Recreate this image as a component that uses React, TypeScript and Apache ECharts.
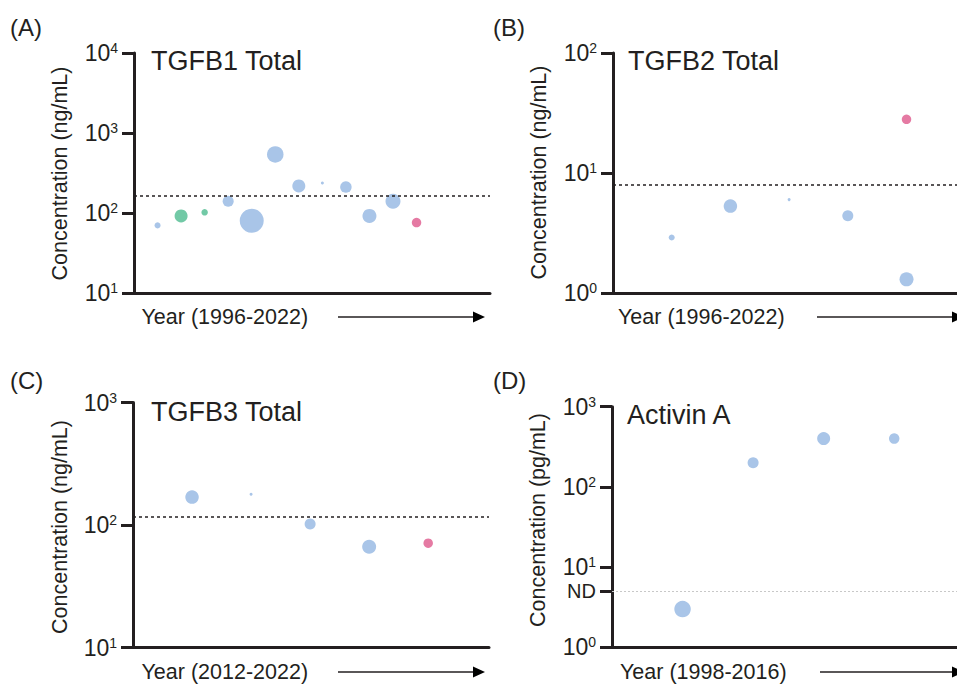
import React, { useEffect, useRef } from "react";
import * as echarts from "echarts";

// ---------- data ----------
// Panel A: TGFB1 Total (ng/mL), studies 1996-2022
const aStudy = [1, 2, 3, 4, 5, 6, 7, 8, 9, 10, 11, 12];
const aValues = [70, 92, 102, 140, 80, 540, 218, 237, 211, 92, 140, 76];
const aWeights = [6, 13, 6.5, 11, 24, 16.5, 13, 3, 11.5, 14, 15, 9.5];
const aGroups = ["blue", "green", "green", "blue", "blue", "blue", "blue", "blue", "blue", "blue", "blue", "pink"];
const aReference = 165;

// Panel B: TGFB2 Total (ng/mL), studies 1996-2022
const bStudy = [1, 2, 3, 4, 5, 5];
const bValues = [2.9, 5.3, 6.0, 4.4, 1.3, 28];
const bWeights = [6, 13.5, 3, 11, 14, 9.5];
const bGroups = ["blue", "blue", "blue", "blue", "blue", "pink"];
const bReference = 8.0;

// Panel C: TGFB3 Total (ng/mL), studies 2012-2022
const cStudy = [1, 2, 3, 4, 5];
const cValues = [169, 178, 102, 66.5, 71];
const cWeights = [13.5, 3, 11, 14, 9.5];
const cGroups = ["blue", "blue", "blue", "blue", "pink"];
const cReference = 117;

// Panel D: Activin A (pg/mL), studies 1998-2016
const dStudy = [1, 2, 3, 4];
const dValues = [3.0, 200, 400, 400];
const dWeights = [16.5, 11, 13, 10.5];
const dGroups = ["blue", "blue", "blue", "blue"];
const dNotDetected = 5;
const dTicks = [1, 5, 10, 100, 1000];

const panelLetters = ["(A)", "(B)", "(C)", "(D)"];
const panelTitles = ["TGFB1 Total", "TGFB2 Total", "TGFB3 Total", "Activin A"];
const yTitles = ["Concentration (ng/mL)", "Concentration (ng/mL)", "Concentration (ng/mL)", "Concentration (pg/mL)"];
const xTitles = ["Year (1996-2022)", "Year (1996-2022)", "Year (2012-2022)", "Year (1998-2016)"];

// ---------- style ----------
const FONT = "Liberation Sans, Arial, Helvetica, sans-serif";
const INK = "#231f20";
const COLORS: Record<string, string> = { blue: "#a9c5e8", green: "#72c9a6", pink: "#e57aa3" };

const grids = [
  { left: 134, top: 53, width: 356, height: 240 },
  { left: 613, top: 53, width: 346, height: 240 },
  { left: 133, top: 402.5, width: 356, height: 245 },
  { left: 612, top: 406.7, width: 347, height: 240.6 },
];
const xMax = [15.12, 5.86, 6.03, 4.89];
const yRange = [
  [10, 10000],
  [1, 100],
  [10, 1000],
  [1, 1000],
];

const powLabel = (v: number) => `{b|10}{s|${Math.round(Math.log10(v))}}`;

const labelRich = {
  b: { fontSize: 23, fontFamily: FONT, color: INK, lineHeight: 24 },
  s: { fontSize: 14, fontFamily: FONT, color: INK, lineHeight: 16, verticalAlign: "top" },
  n: { fontSize: 20, fontFamily: FONT, color: INK, lineHeight: 24 },
};

function makeSeries(idx: number, xs: number[], vals: number[], w: number[], g: string[], ref: number, refStyle: any) {
  return {
    type: "scatter",
    xAxisIndex: idx,
    yAxisIndex: idx,
    data: xs.map((x, i) => ({
      value: [x, vals[i]],
      symbolSize: w[i],
      itemStyle: { color: COLORS[g[i]], opacity: 1 },
    })),
    markLine: {
      silent: true,
      symbol: ["none", "none"],
      label: { show: false },
      lineStyle: refStyle,
      data: [{ yAxis: ref }],
    },
  };
}

export default function App() {
  const ref = useRef<HTMLDivElement>(null);
  useEffect(() => {
    if (!ref.current) return;
    const chart = echarts.init(ref.current, undefined, { renderer: "svg" });

    const dashed = { color: INK, width: 1.5, type: [3, 3] };
    const dotted = { color: "#c8c8c8", width: 1, type: [2, 2] };

    const xAxis = grids.map((_, i) => ({
      type: "value",
      gridIndex: i,
      min: 0,
      max: xMax[i],
      axisLine: { show: true, onZero: false, lineStyle: { color: INK, width: 3 } },
      axisTick: { show: false },
      axisLabel: { show: false },
      splitLine: { show: false },
    }));

    const yAxis = grids.map((_, i) => {
      const base: any = {
        type: "log",
        logBase: 10,
        gridIndex: i,
        min: yRange[i][0],
        max: yRange[i][1],
        axisLine: { show: true, lineStyle: { color: INK, width: 3 } },
        axisTick: { show: true, inside: false, length: 12, lineStyle: { color: INK, width: 3 } },
        axisLabel: {
          margin: 16,
          formatter: (v: number) => powLabel(v),
          rich: labelRich,
        },
        splitLine: { show: false },
        minorTick: { show: false },
      };
      if (i === 3) {
        base.axisTick.customValues = dTicks;
        base.axisLabel.customValues = dTicks;
        base.axisLabel.formatter = (v: number) => (Math.abs(v - dNotDetected) < 1e-6 ? "{n|ND}" : powLabel(v));
      }
      return base;
    });

    const series = [
      makeSeries(0, aStudy, aValues, aWeights, aGroups, aReference, dashed),
      makeSeries(1, bStudy, bValues, bWeights, bGroups, bReference, dashed),
      makeSeries(2, cStudy, cValues, cWeights, cGroups, cReference, dashed),
      makeSeries(3, dStudy, dValues, dWeights, dGroups, dNotDetected, dotted),
    ];

    const letterPos = [
      [10, 27],
      [493, 27],
      [10, 380],
      [493, 380],
    ];
    const titlePos = [
      [151, 61],
      [628, 61],
      [151, 411.5],
      [627, 414.5],
    ];
    const yTitlePos = [
      [60, 173.5],
      [539, 172.5],
      [60, 527],
      [538, 520],
    ];
    const xTitlePos = [
      [141.5, 317],
      [618, 317],
      [141.5, 672],
      [620, 672],
    ];
    const arrows = [
      [338, 485, 317],
      [817, 964, 317],
      [338, 485, 672],
      [820, 964, 672],
    ];

    const txt = (text: string, size: number, align: string) => ({
      text,
      fontSize: size,
      fontFamily: FONT,
      fill: INK,
      align,
      verticalAlign: "middle",
    });

    const graphic: any[] = [];
    for (let i = 0; i < 4; i++) {
      graphic.push({ type: "text", x: letterPos[i][0], y: letterPos[i][1], style: txt(panelLetters[i], 24, "left") });
      graphic.push({ type: "text", x: titlePos[i][0], y: titlePos[i][1], style: txt(panelTitles[i], 27, "left") });
      graphic.push({
        type: "text",
        x: yTitlePos[i][0],
        y: yTitlePos[i][1],
        rotation: Math.PI / 2,
        style: txt(yTitles[i], 21.5, "center"),
      });
      graphic.push({ type: "text", x: xTitlePos[i][0], y: xTitlePos[i][1], style: txt(xTitles[i], 21.5, "left") });
      const [x1, x2, y] = arrows[i];
      graphic.push({
        type: "line",
        shape: { x1, y1: y, x2: x2 - 10, y2: y },
        style: { stroke: INK, lineWidth: 1.5 },
      });
      graphic.push({
        type: "polygon",
        shape: {
          points: [
            [x2 - 12, y - 5.5],
            [x2, y],
            [x2 - 12, y + 5.5],
          ],
        },
        style: { fill: "#000" },
      });
    }

    chart.setOption({
      animation: false,
      backgroundColor: "#ffffff",
      textStyle: { fontFamily: FONT },
      grid: grids.map((g) => ({ ...g, containLabel: false })),
      xAxis,
      yAxis,
      series,
      graphic,
    });

    return () => chart.dispose();
  }, []);

  return (
    <div
      ref={ref}
      style={{ position: "absolute", left: 0, top: 0, width: 957, height: 685, background: "#fff" }}
    />
  );
}
